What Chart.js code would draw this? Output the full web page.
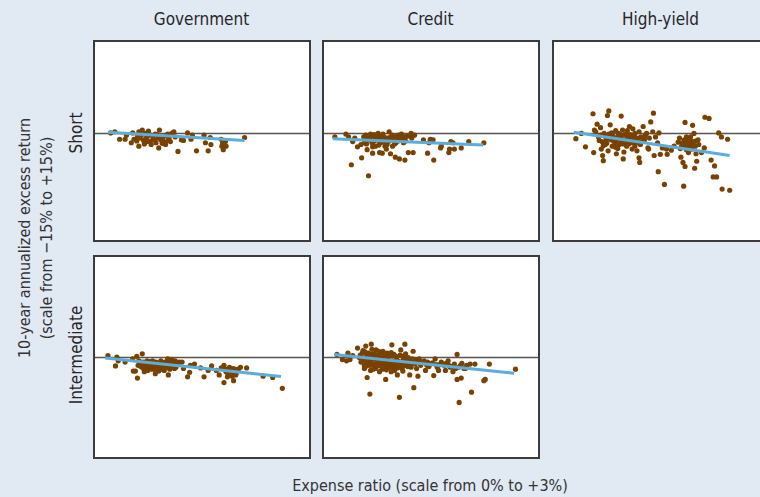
<!DOCTYPE html>
<html>
<head>
<meta charset="utf-8">
<script src="https://cdn.jsdelivr.net/npm/chart.js@4"></script>
<style>
  html, body { margin: 0; padding: 0; }
  body {
    width: 760px; height: 497px; overflow: hidden; position: relative;
    background: #e1e9f3;
    font-family: "Liberation Sans Narrow", "DejaVu Sans Condensed", "Arial Narrow", sans-serif;
    color: #262626;
  }
  .panel { position: absolute; border: 2px solid #3c3c3c; background: #fff; box-sizing: border-box; }
  .panel canvas { display: block; }
  .txt { position: absolute; white-space: nowrap; }
  .col { top: 9px; font-size: 17px; text-align: center; width: 217px; }
  .rot { transform-origin: center center; transform: translate(-50%, -50%) rotate(-90deg); text-align: center; }
</style>
</head>
<body>
<div id="root"></div>
<script>
// column and row labels
const columns = ['Government', 'Credit', 'High-yield'];
const rows = ['Short', 'Intermediate'];
const yTitle = ['10-year annualized excess return', '(scale from \u221215% to +15%)'];
const xTitle = 'Expense ratio (scale from 0% to +3%)';

// [expense ratio %, excess return %]
const govShort = [
  [0.17,0],[0.23,0.2],[0.30,-1.1],[0.38,-1.1],[0.40,-0.4],[0.47,-1.7],[0.49,0],[0.51,-1.1],[0.56,-0.7],
  [0.58,0.2],[0.58,-2.3],[0.60,-0.9],[0.63,0.5],[0.65,-1.3],[0.67,-0.1],[0.70,-0.7],[0.72,0.3],[0.74,-1.5],
  [0.76,-2.0],[0.79,-0.5],[0.81,-1.2],[0.83,-1.7],[0.86,-0.9],[0.87,-2.6],[0.88,0.5],[0.90,-1.2],[0.93,-0.7],
  [0.95,-1.5],[0.97,-2.0],[1.00,-0.2],[1.02,-0.9],[1.04,-1.5],[1.06,-0.1],[1.09,0.2],[1.11,-0.7],[1.15,-3.2],
  [1.20,-1.2],[1.23,-1.3],[1.29,0],[1.34,-1.1],[1.36,-0.4],[1.42,-3.1],[1.53,-0.4],[1.55,-1.7],[1.59,-3.1],
  [1.62,-0.8],[1.63,-2.0],[1.78,-1.1],[1.79,-2.3],[1.80,-1.7],[1.81,-2.9],[1.84,-1.5],[1.85,-2.3],[2.12,-0.8],
  [0.62,-0.3],[0.68,-1.0],[0.75,-0.4],[0.82,-0.2],[0.66,-1.9],[0.85,-0.3],[0.92,-1.8],[0.55,-1.4],[0.78,-1.2],
  [0.97,-0.5],[1.01,-1.3],[0.70,-1.5]
];
const creditShort = [
  [0.10,-0.7],[0.26,-0.2],[0.30,-0.7],[0.34,-5.5],[0.36,-1.5],[0.39,-0.9],[0.43,-2.4],[0.48,-2.0],[0.49,-4.3],
  [0.52,-0.7],[0.53,-1.7],[0.55,-0.4],[0.57,-2.9],[0.59,-7.4],[0.60,-1.2],[0.62,-0.2],[0.64,-1.7],[0.65,-3.5],
  [0.66,-0.7],[0.69,-2.3],[0.71,-1.2],[0.73,-0.1],[0.75,-3.4],[0.76,-1.7],[0.78,-0.7],[0.79,-3.5],[0.80,-0.2],
  [0.82,-1.5],[0.85,-2.8],[0.86,-2.0],[0.87,-0.9],[0.89,0.2],[0.91,-3.6],[0.92,-1.2],[0.94,-2.3],[0.96,-0.7],
  [0.98,-4.2],[0.99,-1.7],[1.01,-0.9],[1.03,-0.4],[1.04,-4.5],[1.07,-0.2],[1.10,-1.7],[1.12,-0.7],[1.12,-4.7],
  [1.17,-3.4],[1.21,-0.1],[1.22,-0.9],[1.24,-3.4],[1.26,-0.4],[1.39,-1.2],[1.45,-3.5],[1.47,-1.7],[1.49,-1.1],
  [1.53,-1.2],[1.54,-4.7],[1.64,-2.6],[1.65,-2.3],[1.76,-3.4],[1.77,-2.8],[1.79,-1.5],[1.82,-1.7],[1.84,-2.8],
  [1.94,-2.6],[2.05,-1.5],[2.27,-1.7],
  [0.58,-1.0],[0.63,-0.5],[0.68,-1.3],[0.72,-0.6],[0.77,-1.1],[0.83,-0.8],[0.88,-1.5],[0.93,-0.4],[0.97,-1.9],
  [1.02,-1.4],[0.56,-1.9],[0.74,-2.1],[0.67,-0.3],[0.81,-1.6],[0.90,-0.8],[1.05,-1.1],[1.15,-0.6],[0.70,-0.9],
  [0.61,-0.8],[0.66,-1.5],[0.71,-0.4],[0.75,-1.3],[0.79,-0.9],[0.84,-1.2],[0.89,-1.0],[0.95,-1.2],[1.00,-0.6],
  [1.08,-1.0],[1.13,-1.4],[0.65,-2.4],[0.83,-2.3],[1.20,-0.6]
];
const hyShort = [
  [0.26,-1.0],[0.34,-0.1],[0.40,-2.4],[0.51,3.3],[0.52,-3.4],[0.53,0.5],[0.55,0.2],[0.57,1.5],[0.59,-0.7],
  [0.62,0.9],[0.63,-2.8],[0.64,-1.5],[0.65,-3.9],[0.66,-4.8],[0.67,-0.1],[0.69,-2.0],[0.70,-0.9],[0.72,3.0],
  [0.73,-3.1],[0.74,3.8],[0.76,1.4],[0.77,-1.2],[0.78,0],[0.79,-2.3],[0.80,-0.7],[0.83,-1.7],[0.84,0.4],
  [0.85,-3.6],[0.86,-1.2],[0.87,-2.7],[0.88,-0.1],[0.89,-2.0],[0.92,2.9],[0.92,-0.9],[0.94,0.5],[0.95,-4.5],
  [0.96,-3.3],[0.98,-1.5],[0.99,-0.4],[1.00,-2.3],[1.01,0.4],[1.02,-0.9],[1.04,1.1],[1.05,-1.7],[1.07,-0.7],
  [1.08,-2.8],[1.09,0.7],[1.10,-1.2],[1.12,-2.3],[1.12,-0.1],[1.15,-3.1],[1.16,-1.7],[1.18,0.2],[1.18,-4.3],
  [1.19,-5.1],[1.21,-0.7],[1.24,1.1],[1.26,-1.2],[1.29,-0.1],[1.31,-2.6],[1.32,-2.8],[1.33,-0.9],[1.35,1.9],
  [1.38,0.2],[1.39,3.4],[1.40,-3.9],[1.42,-0.7],[1.45,-1.7],[1.46,-6.7],[1.47,0],[1.49,-3.7],[1.52,-2.6],
  [1.55,-8.9],[1.58,-2.8],[1.59,-3.7],[1.65,-3.0],[1.69,-2.3],[1.75,-1.6],[1.77,-0.9],[1.78,-2.7],[1.79,-4.2],
  [1.81,-1.7],[1.82,-5.1],[1.83,-9.2],[1.84,-1.2],[1.85,1.8],[1.85,-5.8],[1.86,-2.6],[1.87,-0.7],[1.88,-2.0],
  [1.90,-3.4],[1.91,-1.2],[1.92,-1.7],[1.93,-0.7],[1.95,-2.8],[1.95,-1.5],[1.96,1.3],[1.98,-0.1],[1.99,-6.1],
  [2.00,-2.3],[2.01,-3.6],[2.02,-4.9],[2.04,-1.2],[2.05,-2.0],[2.09,-3.4],[2.13,-2.6],[2.14,2.7],[2.20,2.5],
  [2.23,-4.7],[2.26,-7.6],[2.28,-5.7],[2.31,-7.6],[2.34,0],[2.38,-0.7],[2.39,-9.7],[2.47,-1.1],[2.50,-9.9],
  [0.60,-1.3],[0.68,-0.5],[0.71,-1.8],[0.75,-0.9],[0.81,-1.4],[0.87,-0.6],[0.90,-1.9],[0.93,-1.3],[0.97,-0.3],
  [1.03,-1.9],[1.06,-1.0],[1.11,-0.5],[1.14,-1.4],[1.17,-0.9],[1.20,-2.0],[0.79,-0.4],[0.84,-2.5],[0.66,-2.2],
  [1.83,-1.9],[1.89,-1.0],[1.94,-2.2],[1.87,-2.9],[1.97,-1.6],
  [0.62,-0.4],[0.70,-1.4],[0.74,-0.2],[0.82,-0.9],[0.91,-0.3],[0.95,-1.9],[1.00,-1.1],[1.05,-0.3],[1.09,-1.7],
  [1.13,-0.9],[1.22,-1.5],[1.27,-0.5],[1.80,-2.3],[1.86,-1.4],[1.92,-2.6],[2.00,-1.4]
];
const govInter = [
  [0.13,0.2],[0.24,-1.4],[0.26,0],[0.28,-0.6],[0.38,-0.8],[0.49,-0.3],[0.50,-2.2],[0.53,-2.2],[0.55,0.1],
  [0.56,-3.3],[0.58,-0.6],[0.60,-1.1],[0.63,0.5],[0.64,-1.7],[0.65,-0.8],[0.67,-1.3],[0.70,-0.6],[0.71,-2.1],
  [0.72,-1.1],[0.74,-1.6],[0.76,-0.8],[0.79,-1.2],[0.81,-1.9],[0.82,-2.6],[0.83,-0.8],[0.86,-1.4],[0.88,-1.7],
  [0.90,-0.6],[0.93,-1.2],[0.95,-2.1],[0.96,-0.8],[0.98,-1.6],[1.01,-2.8],[1.02,-0.6],[1.04,-1.3],[1.06,-0.4],
  [1.09,-1.1],[1.10,-1.8],[1.11,-0.6],[1.13,-1.3],[1.17,-0.8],[1.21,-0.8],[1.23,-1.8],[1.29,-3.1],[1.32,-2.4],
  [1.33,-1.3],[1.39,-1.1],[1.48,-1.7],[1.53,-3.1],[1.59,-2.1],[1.64,-1.4],[1.71,-2.1],[1.75,-2.8],[1.78,-1.7],
  [1.82,-1.3],[1.82,-4.0],[1.85,-2.3],[1.87,-3.1],[1.89,-2.1],[1.92,-2.6],[1.95,-1.8],[1.96,-3.7],[1.99,-2.8],
  [2.01,-2.2],[2.03,-1.9],[2.06,-1.6],[2.15,-1.7],[2.39,-3.0],[2.53,-3.2],[2.67,-4.9],
  [0.57,-1.3],[0.62,-0.8],[0.68,-1.6],[0.73,-0.7],[0.77,-1.9],[0.84,-1.0],[0.87,-2.2],[0.91,-0.9],[0.94,-1.6],
  [0.99,-1.1],[1.03,-1.9],[1.07,-0.8],[1.12,-1.6],[0.66,-2.3],[0.80,-1.5],[1.00,-0.3],[1.15,-1.0],[1.90,-1.6],
  [1.93,-2.4],[1.98,-1.9],
  [0.61,-1.5],[0.69,-1.0],[0.75,-1.3],[0.78,-0.6],[0.85,-1.8],[0.89,-1.2],[0.92,-1.9],[0.97,-1.3],[1.05,-1.6],
  [1.08,-1.4],[1.84,-1.9],[1.88,-2.7],[1.94,-3.0],[2.00,-2.5]
];
const creditInter = [
  [0.13,0.4],[0.21,-0.4],[0.27,-0.6],[0.29,0.6],[0.32,-0.4],[0.36,0.2],[0.43,1.4],[0.46,-0.1],[0.48,-0.8],
  [0.50,0.6],[0.53,-1.3],[0.53,-1.8],[0.55,1.7],[0.56,0.1],[0.57,-3.2],[0.59,-0.6],[0.61,-5.8],[0.62,-2.1],
  [0.63,2.0],[0.64,0.4],[0.65,-1.1],[0.66,-0.3],[0.69,-1.8],[0.70,1.1],[0.71,-0.8],[0.73,0.1],[0.75,-2.3],
  [0.76,-1.3],[0.78,0.6],[0.80,-0.6],[0.82,-1.8],[0.84,-3.5],[0.85,-0.1],[0.87,-1.1],[0.89,0.4],[0.92,-2.3],
  [0.93,1.9],[0.94,-0.6],[0.96,-1.6],[0.99,0.1],[1.01,-2.8],[1.02,-0.8],[1.04,-6.3],[1.06,1.1],[1.08,-1.8],
  [1.10,-0.3],[1.12,2.0],[1.15,-1.1],[1.17,-0.1],[1.19,-2.8],[1.22,-0.8],[1.24,0.9],[1.25,-4.8],[1.26,-0.6],
  [1.29,-1.8],[1.31,-3.0],[1.33,-0.3],[1.35,-1.3],[1.40,-0.6],[1.42,-2.1],[1.45,-0.8],[1.49,-1.1],[1.54,-2.9],
  [1.56,-0.3],[1.59,-1.6],[1.61,-2.1],[1.65,-0.8],[1.69,-1.3],[1.71,-2.1],[1.75,-0.6],[1.78,-1.6],[1.82,-2.3],
  [1.84,-1.1],[1.88,0.4],[1.88,-3.5],[1.91,-7.1],[1.93,-1.3],[1.94,-3.3],[1.98,-1.8],[2.02,-1.3],[2.07,-1.1],
  [2.09,-5.5],[2.14,-1.1],[2.27,-3.7],[2.29,-3.5],[2.35,-1.1],[2.73,-1.9],
  [0.47,0.3],[0.52,-0.4],[0.54,0.8],[0.58,-1.0],[0.60,0.2],[0.63,-0.9],[0.67,0.5],[0.68,-1.5],[0.72,-0.4],
  [0.74,0.9],[0.77,-0.9],[0.79,-1.9],[0.81,0.2],[0.83,-1.3],[0.86,0.6],[0.88,-0.5],[0.90,-1.6],[0.91,0.2],
  [0.95,-0.9],[0.97,-2.1],[1.00,-0.4],[1.03,-1.4],[1.05,0.3],[1.07,-1.1],[1.09,-2.2],[1.11,-0.8],[1.13,0.5],
  [1.16,-1.5],[1.18,-0.5],[1.20,-1.2],[1.23,-0.3],[1.27,-1.1],[1.30,-0.7],[0.50,-0.3],[0.56,-1.4],[0.62,-0.2],
  [0.70,-1.1],[0.76,-0.2],[0.85,-2.0],[0.93,-1.1],[1.47,-1.5],[1.52,-0.9],[1.58,-1.2],[1.72,-1.0],[1.80,-1.5],
  [1.86,-1.8],[1.95,-1.0],[2.00,-1.8],
  [0.51,1.0],[0.55,-0.7],[0.59,0.6],[0.61,-1.3],[0.64,1.2],[0.66,-1.9],[0.69,0.3],[0.71,-1.5],[0.73,-0.8],
  [0.75,0.4],[0.78,-1.5],[0.80,0.9],[0.82,-0.9],[0.84,-0.2],[0.87,-1.6],[0.89,-1.1],[0.92,0.7],[0.94,-1.3],
  [0.96,0.4],[0.98,-1.2],[1.01,-1.7],[1.04,-0.7],[1.06,-1.6],[1.09,0.1],[1.12,-1.3],[1.14,-0.2],[1.19,-0.9],
  [1.21,-1.6],[1.28,-0.4],[1.36,-0.9],[1.44,-1.3],[1.63,-1.2],[1.76,-1.3],[1.90,-1.6]
];

// fitted lines: [start, end]
const govShortFit = [[0.13,0.1],[2.12,-1.3]];
const creditShortFit = [[0.07,-1.0],[2.26,-2.1]];
const hyShortFit = [[0.23,0.1],[2.50,-3.9]];
const govInterFit = [[0.09,-0.15],[2.65,-3.05]];
const creditInterFit = [[0.09,0.4],[2.71,-2.55]];

const panels = [
  { pts: govShort, fit: govShortFit, left: 93, top: 40, h: 202, yMin: -17.8, yMax: 15 },
  { pts: creditShort, fit: creditShortFit, left: 322, top: 40, h: 202, yMin: -17.8, yMax: 15 },
  { pts: hyShort, fit: hyShortFit, left: 552, top: 40, h: 202, yMin: -17.8, yMax: 15 },
  { pts: govInter, fit: govInterFit, left: 93, top: 255, h: 204, yMin: -15, yMax: 15 },
  { pts: creditInter, fit: creditInterFit, left: 322, top: 255, h: 204, yMin: -15, yMax: 15 }
];

const root = document.getElementById('root');

function addText(text, cls, style) {
  var d = document.createElement('div');
  d.className = 'txt ' + cls;
  d.textContent = text;
  Object.assign(d.style, style);
  root.appendChild(d);
  return d;
}

columns.forEach(function (c, i) {
  addText(c, 'col', { left: [93, 322, 552][i] + 'px' });
});
addText(rows[0], 'rot', { left: '76px', top: '133px', fontSize: '17px' });
addText(rows[1], 'rot', { left: '76px', top: '355px', fontSize: '17px' });
addText(yTitle[0], 'rot', { left: '24px', top: '238px', fontSize: '16px', color: '#333' });
addText(yTitle[1], 'rot', { left: '46px', top: '238px', fontSize: '16px', color: '#333' });
addText(xTitle, '', { left: '430px', top: '485px', fontSize: '16px', color: '#333', transform: 'translate(-50%, -50%)' });

// horizontal zero line
const zeroLine = {
  id: 'zeroLine',
  beforeDatasetsDraw(chart) {
    const ctx = chart.ctx;
    const y = Math.round(chart.scales.y.getPixelForValue(0)) + 0.5;
    ctx.save();
    ctx.strokeStyle = '#555';
    ctx.lineWidth = 1.3;
    ctx.beginPath();
    ctx.moveTo(0, y);
    ctx.lineTo(chart.width, y);
    ctx.stroke();
    ctx.restore();
  }
};

panels.forEach(function (p) {
  var box = document.createElement('div');
  box.className = 'panel';
  box.style.left = p.left + 'px';
  box.style.top = p.top + 'px';
  box.style.width = '218px';
  box.style.height = p.h + 'px';
  var cv = document.createElement('canvas');
  cv.width = 214;
  cv.height = p.h - 4;
  box.appendChild(cv);
  root.appendChild(box);

  new Chart(cv.getContext('2d'), {
    type: 'scatter',
    data: {
      datasets: [{
        type: 'line',
        data: p.fit.map(d => ({ x: d[0], y: d[1] })),
        borderColor: '#5aaedb',
        borderWidth: 3,
        pointRadius: 0
      }, {
        data: p.pts.map(d => ({ x: d[0], y: d[1] })),
        backgroundColor: '#7a4200',
        borderWidth: 0,
        pointRadius: 2.6
      }]
    },
    options: {
      responsive: false,
      animation: false,
      layout: { padding: 0 },
      scales: {
        x: { type: 'linear', display: false, min: 0, max: 3 },
        y: { display: false, min: p.yMin, max: p.yMax }
      },
      plugins: {
        legend: { display: false },
        tooltip: { enabled: false }
      }
    },
    plugins: [zeroLine]
  });
});
</script>
</body>
</html>
